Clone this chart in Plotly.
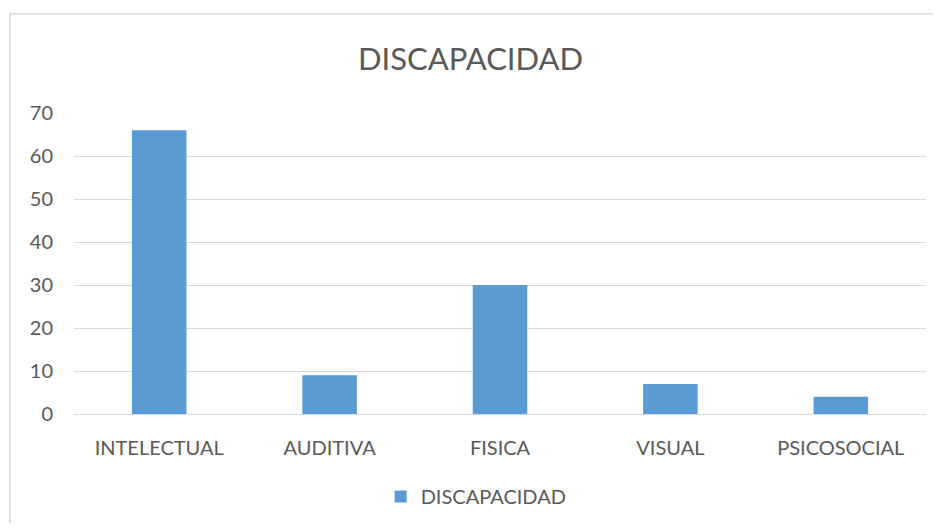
import plotly.graph_objects as go

# datos
categorias = ["INTELECTUAL", "AUDITIVA", "FISICA", "VISUAL", "PSICOSOCIAL"]
valores = [66, 9, 30, 7, 4]
serie = "DISCAPACIDAD"

fig = go.Figure()
fig.add_trace(go.Bar(
    x=categorias,
    y=valores,
    name=serie,
    marker=dict(color="#5B9BD5", line=dict(width=0)),
    showlegend=True,
))

# la pagina tiene 8px de margen en el body
fig.update_layout(
    width=925,
    height=515,
    margin=dict(l=66, r=7, t=105, b=107),
    paper_bgcolor="white",
    plot_bgcolor="white",
    font=dict(family="Lato", color="#595959", size=20),
    title=dict(text="DISCAPACIDAD", x=0.5, xanchor="center", y=0.901, yanchor="middle",
               font=dict(size=31, color="#595959")),
    bargap=0.68,
    xaxis=dict(showgrid=False, showline=False, ticks="", tickfont=dict(size=20),
               ticklabelstandoff=20),
    yaxis=dict(range=[0, 70], dtick=10, showgrid=True, gridcolor="#D9D9D9", gridwidth=1,
               zeroline=True, zerolinecolor="#D9D9D9", zerolinewidth=1,
               tickfont=dict(size=20), ticklabelstandoff=20),
    legend=dict(orientation="h", x=0.472, xanchor="center", y=-0.274, yanchor="middle",
                font=dict(size=20)),
    shapes=[dict(type="rect", xref="paper", yref="paper",
                 x0=-0.0751, x1=1.05, y0=-0.5, y1=1.33,
                 line=dict(color="#D9D9D9", width=1.5), layer="below")],
)

fig.write_html("out.html")
